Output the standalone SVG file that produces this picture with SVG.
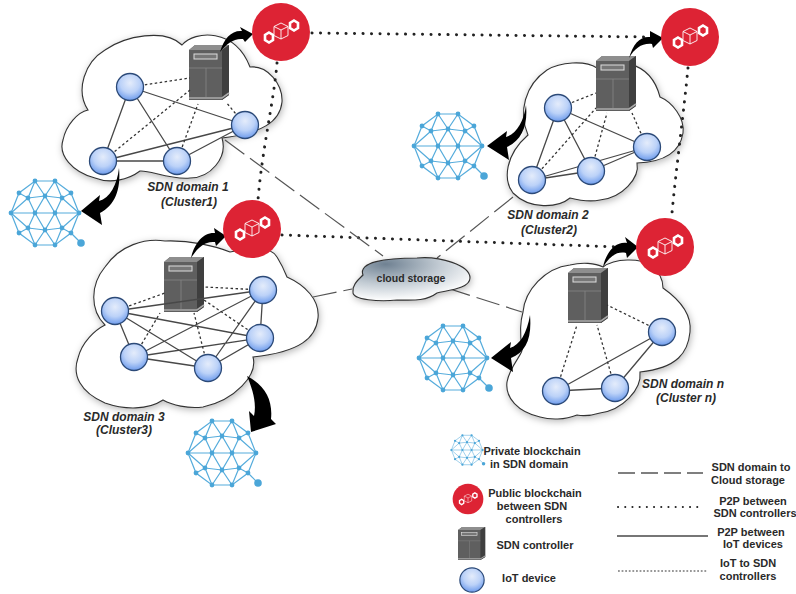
<svg xmlns="http://www.w3.org/2000/svg" width="796" height="594" viewBox="0 0 796 594">
<style>
text{font-family:"Liberation Sans",Arial,sans-serif;font-weight:bold;fill:#2a2a2a;text-anchor:middle}
.dom{font-size:12px;font-style:italic}
.leg{font-size:11px}
.cloud{fill:#fff;stroke:#333;stroke-width:1.1;filter:url(#sh)}
.solid{stroke:#484848;stroke-width:1.3;fill:none}
.fine{stroke:#333;stroke-width:1.3;stroke-dasharray:2.5 2.5;fill:none}
.p2p{stroke:#222;stroke-width:3;stroke-linecap:round;stroke-dasharray:.1 8.4;fill:none}
.dash{stroke:#555;stroke-width:1.2;stroke-dasharray:24 7;fill:none}
.arrow{fill:#000;stroke:none}
.bc{stroke:#55acdc;stroke-width:1.2;fill:none}
.bd{fill:#4ba6d8}
.dev{fill:url(#dg);stroke:#2c4a78;stroke-width:1.3}
</style>
<defs>
<filter id="sh" x="-15%" y="-15%" width="130%" height="130%"><feDropShadow dx="1" dy="2" stdDeviation="3.500" flood-color="#000" flood-opacity=".28"/></filter>
<radialGradient id="dg" cx="50%" cy="35%" r="65%"><stop offset="0" stop-color="#e4ecfb"/><stop offset=".55" stop-color="#bcd2f8"/><stop offset="1" stop-color="#6d9bec"/></radialGradient>
<radialGradient id="cg" cx="28%" cy="15%" r="85%"><stop offset="0" stop-color="#6f8192"/><stop offset=".55" stop-color="#c3ccd4"/><stop offset="1" stop-color="#fff"/></radialGradient>
<g id="dv"><circle r="13.500" class="dev"/></g>
<g id="srv">
<path d="M0 5L6 0H40V50L33 55H0Z" fill="#5f5f5f"/>
<path d="M0 5L6 0H40L33 5Z" fill="#8e8e8e"/>
<path d="M33 5L40 0V50L33 55Z" fill="#3f3f3f"/>
<rect x="5" y="9" width="23" height="5" fill="#777" stroke="#ddd" stroke-width="1"/>
<path d="M0 23H33M17 23V52" stroke="#858585" stroke-width=".8" fill="none"/>
<path d="M0 53H33L40 48" stroke="#aaa" stroke-width="1.600" fill="none"/>
</g>
<g id="red">
<circle r="29" fill="#dd2334"/>
<g fill="none" stroke="#fff" stroke-width="2.600">
<path d="M-12 0.500L-8 3V8L-12 10.500L-16 8V3Z"/>
<path d="M13 -11.500L17 -9V-4L13 -1.500L9 -4V-9Z"/>
</g>
<g fill="#dd2334" stroke="#fff" stroke-width=".9">
<path d="M0 -9L7 -5.500V3.500L0 7L-7 3.500V-5.500Z"/><path d="M-7 -5.500L0 -2L7 -5.500M0 -2V7" fill="none"/>
</g>
</g>
<g id="bchain">
<path class="bc" d="M-10-32H10L26-20L34 0L26 20L10 32H-10L-26 20L-34 0L-26-20Z"/>
<path class="bc" d="M-34 0H34M-26-20L-17-15L0-17L17-15L26-20M-26 20L-17 15L0 17L17 15L26 20"/>
<path class="bc" d="M-10-32L-17-15L-10 0L0-17L10 0L17-15L10-32L0-17L-10-32M-10 32L-17 15L-10 0L0 17L10 0L17 15L10 32L0 17L-10 32"/>
<path class="bc" d="M-17-15L-34 0L-17 15M17-15L34 0L17 15"/>
<path class="bc" d="M26 20L36 30"/>
<g class="bd"><circle cx="-10" cy="-32" r="2.400"/><circle cx="10" cy="-32" r="2.400"/><circle cx="-26" cy="-20" r="2.400"/><circle cx="26" cy="-20" r="2.400"/><circle cx="-34" cy="0" r="2.400"/><circle cx="34" cy="0" r="2.400"/><circle cx="-26" cy="20" r="2.400"/><circle cx="26" cy="20" r="2.400"/><circle cx="-10" cy="32" r="2.400"/><circle cx="10" cy="32" r="2.400"/><circle cx="-17" cy="-15" r="2.400"/><circle cx="0" cy="-17" r="2.400"/><circle cx="17" cy="-15" r="2.400"/><circle cx="-10" cy="0" r="2.400"/><circle cx="10" cy="0" r="2.400"/><circle cx="-17" cy="15" r="2.400"/><circle cx="0" cy="17" r="2.400"/><circle cx="17" cy="15" r="2.400"/><circle cx="36" cy="30" r="3.800"/></g>
</g>
</defs>
<rect width="796" height="594" fill="#fff"/>

<g id="domain1-cloud"><path class="cloud" d="M88 110C75 90 85 62 105 50C125 36 165 28 182 45C195 30 235 28 250 67C268 65 283 85 282 102C280 122 262 133 222 138C228 158 210 178 190 178C170 180 150 170 140 171C128 180 110 184 95 178C72 172 58 155 63 140C66 125 78 112 88 110Z"/></g>
<g id="domain2-cloud"><path class="cloud" d="M528 135C518 112 525 85 547 70C560 62 585 60 597 68C612 58 650 58 660 97C672 102 685 118 683 133C680 152 665 162 637 163C640 178 622 198 600 200C590 202 578 200 570 198C558 208 530 210 513 193C503 180 505 155 528 135Z"/></g>
<g id="domain3-cloud"><path class="cloud" d="M105 325C90 310 90 285 105 267C120 245 145 238 165 241C190 240 215 246 230 252C250 248 270 245 277 257C282 265 285 272 287 277C305 285 320 300 318 318C316 338 300 352 253 357C258 375 235 400 203 407C188 409 172 405 163 400C148 410 125 410 105 403C80 392 72 375 78 358C82 342 95 330 105 325Z"/></g>
<g id="domainn-cloud"><path class="cloud" d="M523 312C525 290 545 268 570 265C582 262 595 263 603 267C615 258 640 258 650 265C660 272 663 280 663 288C680 300 692 315 690 332C688 352 678 368 640 372C642 390 622 410 600 413C590 416 582 416 577 415C565 420 550 420 540 417C518 412 505 398 507 382C510 365 525 352 522 348C520 335 520 322 523 312Z"/></g>

<g id="controller1"><use href="#srv" x="189" y="45"/></g>
<g id="controller2"><use href="#srv" x="596" y="56"/></g>
<g id="controller3"><use href="#srv" x="164" y="257"/></g>
<g id="controllern"><use href="#srv" x="568" y="268"/></g>

<g id="connectors">
<path class="solid" d="M130 87L103 161M130 87L177 161M130 87L245 125M103 161L177 161M103 161L245 125M177 161L245 125"/>
<path class="fine" d="M130 87L190 78M103 161L190 90M177 161L198 104M245 125L226 102"/>
<path class="solid" d="M558 108L532 180M558 108L591 171M558 108L647 147M532 180L591 171M532 180L647 147M591 171L647 147"/>
<path class="fine" d="M558 108L596 93M532 180L596 108M591 171L607 113M647 147L632 113"/>
<path class="solid" d="M115 311L134 357M115 311L208 368M115 311L263 290M115 311L260 338M134 357L208 368M134 357L263 290M134 357L260 338M208 368L263 290M208 368L260 338M263 290L260 338"/>
<path class="fine" d="M115 311L165 293M134 357L160 313M208 368L194 313M263 290L204 287M260 338L204 300"/>
<path class="solid" d="M556 391L615 388M556 391L662 332M615 388L662 332"/>
<path class="fine" d="M662 332L607 305M556 391L577 325M615 388L597 325"/>
<path class="p2p" d="M312 33L648 37"/>
<path class="p2p" d="M277 63C274 100 262 150 258 200"/>
<path class="p2p" d="M282 235L620 247"/>
<path class="p2p" d="M688 68C684 110 676 170 672 213"/>
<path class="dash" d="M225 140L383 256"/>
<path class="dash" d="M513 197L437 258"/>
<path class="dash" d="M313 297L352 289"/>
<path class="dash" d="M447 288L522 312"/>
<path class="arrow" d="M220 52C224 38 232 30 242 31L240 27L253 34L245 42L243 39C234 38 226 44 220 52Z"/>
<path class="arrow" d="M629 58C633 44 640 36 650 37L650 31L663 38L653 48L652 44C642 43 635 48 629 58Z"/>
<path class="arrow" d="M191 258C194 244 203 232 215 233L214 228L226 236L216 246L215 242C205 241 198 247 191 258Z"/>
<path class="arrow" d="M603 267C606 252 616 241 627 243L625 237L638 247L627 258L626 253C617 251 610 256 603 267Z"/>
<path class="arrow" d="M119 168C121 190 115 205 100 213L102 225L81 211L100 195L99 201C110 198 117 185 119 168Z"/>
<path class="arrow" d="M526 105C528 125 522 140 507 147L509 160L487 146L507 131L506 137C516 134 524 122 526 105Z"/>
<path class="arrow" d="M530 315C532 338 526 352 511 358L513 372L491 358L511 342L510 348C520 345 527 333 530 315Z"/>
<path class="arrow" d="M247 376C265 385 273 400 271 419L276 424L251 432L249 411L254 416C257 402 252 388 247 376Z"/>
</g>

<g id="dev1a"><use href="#dv" x="130" y="87"/></g>
<g id="dev1b"><use href="#dv" x="103" y="161"/></g>
<g id="dev1c"><use href="#dv" x="177" y="161"/></g>
<g id="dev1d"><use href="#dv" x="245" y="125"/></g>
<g id="dev2a"><use href="#dv" x="558" y="108"/></g>
<g id="dev2b"><use href="#dv" x="532" y="180"/></g>
<g id="dev2c"><use href="#dv" x="591" y="171"/></g>
<g id="dev2d"><use href="#dv" x="647" y="147"/></g>
<g id="dev3a"><use href="#dv" x="115" y="311"/></g>
<g id="dev3b"><use href="#dv" x="134" y="357"/></g>
<g id="dev3c"><use href="#dv" x="208" y="368"/></g>
<g id="dev3d"><use href="#dv" x="263" y="290"/></g>
<g id="dev3e"><use href="#dv" x="260" y="338"/></g>
<g id="devna"><use href="#dv" x="662" y="332"/></g>
<g id="devnb"><use href="#dv" x="556" y="391"/></g>
<g id="devnc"><use href="#dv" x="615" y="388"/></g>

<g id="public1"><use href="#red" x="281" y="32"/></g>
<g id="public2"><use href="#red" x="690" y="37"/></g>
<g id="public3"><use href="#red" x="252" y="229"/></g>
<g id="publicn"><use href="#red" x="665" y="247"/></g>

<g id="private1"><use href="#bchain" x="45" y="213"/></g>
<g id="private2"><use href="#bchain" x="448" y="146"/></g>
<g id="private3"><use href="#bchain" x="222" y="453"/></g>
<g id="privaten"><use href="#bchain" x="453" y="358"/></g>

<g id="cloud-storage"><path d="M363 275C358 262 385 258 417 258C440 256 470 265 470 278C470 288 450 290 437 293C425 302 410 300 397 300C380 302 352 300 353 292C352 285 358 280 363 275Z" fill="url(#cg)" stroke="#333" stroke-width="1.100" filter="url(#sh)"/><text x="411" y="282" style="font-size:10.500px">cloud storage</text></g>

<g id="labels">
<text class="dom" x="188" y="191">SDN domain 1</text><text class="dom" x="189" y="206">(Cluster1)</text>
<text class="dom" x="548" y="219">SDN domain 2</text><text class="dom" x="549" y="234">(Cluster2)</text>
<text class="dom" x="124" y="421">SDN domain 3</text><text class="dom" x="124" y="434">(Cluster3)</text>
<text class="dom" x="683" y="388">SDN domain n</text><text class="dom" x="686" y="402">(Cluster n)</text>
</g>

<g id="legend">
<g id="leg-private"><use href="#bchain" transform="translate(467 450) scale(.46)"/><text class="leg" x="532" y="455">Private blockchain</text><text class="leg" x="529" y="468">in SDN domain</text></g>
<g id="leg-public"><use href="#red" transform="translate(468 499) scale(.53)"/><text class="leg" x="535" y="497">Public blockchain</text><text class="leg" x="532" y="510">between SDN</text><text class="leg" x="534" y="523">controllers</text></g>
<g id="leg-controller"><use href="#srv" transform="translate(458 527) scale(.68 .6)"/><text class="leg" x="535" y="549">SDN controller</text></g>
<g id="leg-device"><use href="#dv" transform="translate(472 580) scale(.9)"/><text class="leg" x="529" y="582">IoT device</text></g>
<path class="dash" style="stroke-width:1.300;stroke-dasharray:17 6" d="M618 473H703"/>
<path class="p2p" style="stroke-width:2;stroke-dasharray:.1 7.100" d="M618 507H703"/>
<path class="solid" d="M617 536H708"/>
<path class="fine" style="stroke-dasharray:1.800 1.800;stroke-width:1.200" d="M618 571H707"/>
<text class="leg" x="751" y="471">SDN domain to</text><text class="leg" x="748" y="484">Cloud storage</text>
<text class="leg" x="753" y="505">P2P between</text><text class="leg" x="755" y="517">SDN controllers</text>
<text class="leg" x="751" y="536">P2P between</text><text class="leg" x="753" y="548">IoT devices</text>
<text class="leg" x="748" y="567">IoT to SDN</text><text class="leg" x="748" y="580">controllers</text>
</g>
</svg>
